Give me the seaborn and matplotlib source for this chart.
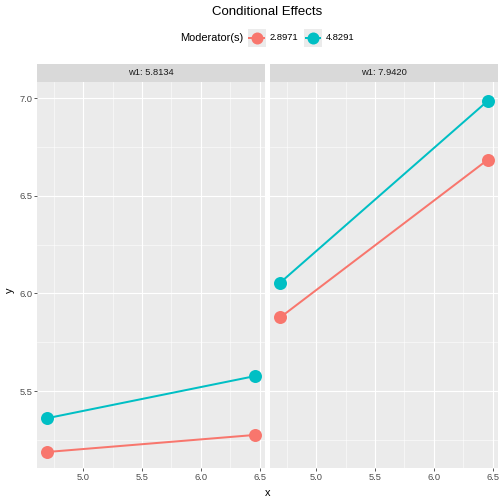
import numpy as np
import pandas as pd
import matplotlib
matplotlib.use("Agg")
import matplotlib.pyplot as plt
import seaborn as sns
from matplotlib.patches import Rectangle
from matplotlib.lines import Line2D

# data
x_vals = [4.695, 6.457]
w1_levels = ["w1: 5.8134", "w1: 7.9420"]
mod_levels = ["2.8971", "4.8291"]
y_low_w1a = [5.189, 5.276]   # moderator 2.8971, w1 5.8134
y_high_w1a = [5.362, 5.577]  # moderator 4.8291, w1 5.8134
y_low_w1b = [5.878, 6.684]   # moderator 2.8971, w1 7.9420
y_high_w1b = [6.056, 6.985]  # moderator 4.8291, w1 7.9420

rows = []
for w, lo, hi in [(w1_levels[0], y_low_w1a, y_high_w1a), (w1_levels[1], y_low_w1b, y_high_w1b)]:
    for m, ys in [(mod_levels[0], lo), (mod_levels[1], hi)]:
        for xv, yv in zip(x_vals, ys):
            rows.append({"x": xv, "y": yv, "mod": m, "w1": w})
df = pd.DataFrame(rows)

pal = {"2.8971": "#F8766D", "4.8291": "#00BFC4"}

plt.rcParams["font.family"] = ["Liberation Sans", "DejaVu Sans"]
W = 504
fig, axes = plt.subplots(1, 2, sharey=True, figsize=(7, 7), dpi=72)
fig.subplots_adjust(left=37 / W, right=498 / W, top=1 - 82 / W, bottom=1 - 468 / W,
                    wspace=5 / 228)

for ax, w in zip(axes, w1_levels):
    sub = df[df.w1 == w]
    sns.lineplot(data=sub, x="x", y="y", hue="mod", palette=pal, marker="o",
                 markersize=13, markeredgewidth=0, linewidth=2, legend=False, ax=ax)
    ax.set_facecolor("#EBEBEB")
    ax.set_xlim(4.607, 6.545)
    ax.set_ylim(5.107, 7.082)
    ax.set_xticks([5.0, 5.5, 6.0, 6.5])
    ax.set_xticks([4.75, 5.25, 5.75, 6.25], minor=True)
    ax.set_yticks([5.5, 6.0, 6.5, 7.0])
    ax.set_yticks([5.25, 5.75, 6.25, 6.75], minor=True)
    ax.grid(True, which="major", color="white", linewidth=1.1)
    ax.grid(True, which="minor", color="white", linewidth=0.55)
    ax.set_axisbelow(True)
    for s in ax.spines.values():
        s.set_visible(False)
    ax.tick_params(which="major", length=2.75, width=0.8, color="#333333",
                   labelcolor="#4D4D4D", labelsize=9.4, pad=2)
    ax.tick_params(which="minor", length=0)
    ax.set_xlabel("")
    ax.set_ylabel("")
    # strip
    sh = 18 / 386
    ax.add_patch(Rectangle((0, 1), 1, sh, transform=ax.transAxes, facecolor="#D9D9D9",
                           edgecolor="none", clip_on=False))
    ax.text(0.5, 1 + sh / 2, w, transform=ax.transAxes, ha="center", va="center",
            fontsize=9.4, color="#1A1A1A")

axes[1].tick_params(axis="y", which="major", length=0)

fig.text(267.5 / W, 1 - 493 / W, "x", ha="center", va="center", fontsize=11)
fig.text(10 / W, 1 - 290 / W, "y", ha="center", va="center", rotation=90, fontsize=11)
fig.text(267.5 / W, 1 - 12 / W, "Conditional Effects", ha="center", va="center", fontsize=13.2)

# legend drawn by hand, ggplot style (title on the left, grey key boxes)
ly = 1 - 38 / W
fig.text(180 / W, ly, "Moderator(s)", ha="left", va="center", fontsize=11)
for m, kx in zip(mod_levels, [248, 304]):
    fig.patches.append(Rectangle((kx / W, ly - 8.8 / W), 17.6 / W, 17.6 / W,
                                 transform=fig.transFigure, facecolor="#EBEBEB",
                                 edgecolor="none"))
    cx = (kx + 8.8) / W
    fig.lines.append(Line2D([kx / W + 1.5 / W, (kx + 16) / W], [ly, ly],
                            transform=fig.transFigure, color=pal[m], linewidth=2))
    fig.lines.append(Line2D([cx], [ly], transform=fig.transFigure, color=pal[m],
                            marker="o", markersize=12, markeredgewidth=0))
    fig.text((kx + 22) / W, ly, m, ha="left", va="center", fontsize=9.4)

fig.savefig("out.png", dpi=72)
